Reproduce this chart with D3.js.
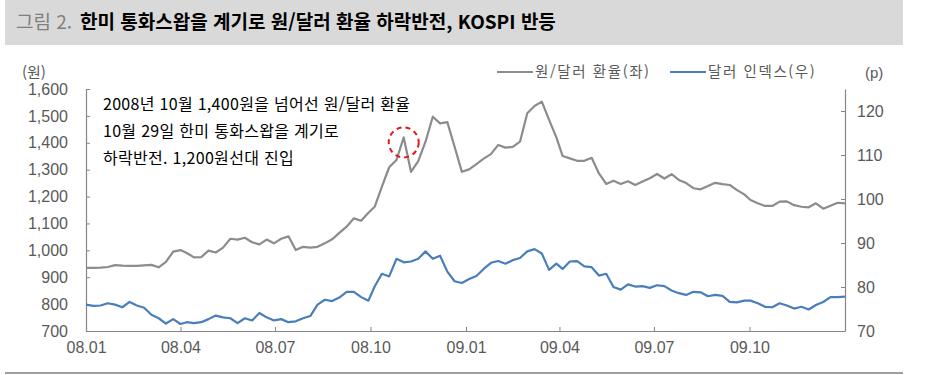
<!DOCTYPE html>
<html lang="ko">
<head>
    <meta charset="UTF-8">
    <title>그림 2. 한미 통화스왑을 계기로 원/달러 환율 하락반전, KOSPI 반등</title>
    <script src="https://d3js.org/d3.v7.min.js"></script>
    <style>
        body {
            margin: 0;
            background: #fff;
            font-family: "Liberation Sans", "Noto Sans CJK KR", sans-serif;
        }
        .axis text {
            font-family: "Liberation Sans", Arial, sans-serif;
            font-size: 16px;
            fill: #595959;
        }
        .axis path, .axis line {
            stroke: #868686;
        }
    </style>
</head>
<body>
    <svg id="chart" width="930" height="375"></svg>

    <script>
        // 주간 데이터: 2008.01 ~ 2009.12
        const wonDollar = [
            935, 935, 936, 938, 945, 943, 942, 942, 944, 946,
            937, 957, 995, 1001, 990, 974, 975, 999, 992, 1010,
            1043, 1040, 1047, 1030, 1022, 1040, 1026, 1043, 1052, 1001,
            1013, 1010, 1013, 1026, 1041, 1065, 1088, 1119, 1110, 1140,
            1162, 1237, 1309, 1336, 1420, 1292, 1332, 1404, 1497, 1472,
            1477, 1385, 1292, 1301, 1321, 1341, 1358, 1392, 1382, 1385,
            1404, 1510, 1537, 1553, 1485, 1420, 1351, 1342, 1333, 1333,
            1344, 1286, 1247, 1259, 1247, 1257, 1243, 1256, 1268, 1284,
            1267, 1283, 1262, 1250, 1231, 1227, 1239, 1251, 1246, 1243,
            1224, 1208, 1187, 1175, 1165, 1165, 1181, 1182, 1168, 1162,
            1160, 1175, 1155, 1166, 1177, 1175
        ];
        const dollarIndex = [
            76.0, 75.7, 75.8, 76.3, 76.0, 75.4, 76.6, 75.8, 75.3, 73.7,
            72.9, 71.7, 72.7, 71.6, 72.0, 71.8, 72.0, 72.7, 73.5, 73.1,
            72.9, 71.8, 72.9, 72.4, 74.1, 73.1, 72.4, 72.7, 72.0, 72.2,
            72.9, 73.4, 76.0, 77.1, 76.8, 77.6, 78.9, 78.9, 77.7, 76.9,
            80.1, 83.0, 82.4, 86.4, 85.6, 85.8, 86.4, 88.1, 86.4, 87.1,
            83.5, 81.3, 80.9, 81.8, 82.5, 84.1, 85.5, 85.9, 85.3, 86.1,
            86.6, 88.1, 88.6, 87.6, 83.9, 85.3, 84.1, 85.8, 85.9, 84.7,
            84.5, 82.6, 83.0, 80.0, 79.4, 80.6, 80.1, 80.2, 79.8, 80.4,
            80.2, 79.2, 78.6, 78.2, 78.9, 78.8, 77.9, 78.2, 78.0, 76.6,
            76.5, 76.9, 76.9, 76.3, 75.5, 75.4, 76.3, 75.8, 75.1, 75.5,
            74.9, 75.9, 76.6, 77.7, 77.7, 77.8
        ];
        const leftTicks = [700, 800, 900, 1000, 1100, 1200, 1300, 1400, 1500, 1600];
        const rightTicks = [70, 80, 90, 100, 110, 120];
        const monthTicks = ["2008-01", "2008-04", "2008-07", "2008-10", "2009-01", "2009-04", "2009-07", "2009-10"];
        const seriesNames = ["원/달러 환율(좌)", "달러 인덱스(우)"];
        const noteLines = [
            "2008년 10월 1,400원을 넘어선 원/달러 환율",
            "10월 29일 한미 통화스왑을 계기로",
            "하락반전. 1,200원선대 진입"
        ];
        const swapWeek = 44; // 10월 말 고점

        const start = new Date(2008, 0, 1);
        const end = new Date(2010, 0, 1);
        const n = wonDollar.length;
        const totalDays = (end - start) / 86400000;
        const dates = d3.range(n).map(i => new Date(2008, 0, 1 + Math.round(i * totalDays / (n - 1))));

        const svg = d3.select("#chart");

        // 제목 바
        svg.append("rect")
            .attr("x", 5).attr("y", 0)
            .attr("width", 898).attr("height", 45)
            .attr("fill", "#d9d9d9");
        const title = svg.append("text")
            .attr("x", 16).attr("y", 29)
            .style("font-family", "'Noto Sans CJK KR', sans-serif")
            .style("font-size", "19px");
        title.append("tspan").attr("fill", "#7f7f7f").text("그림 2. ");
        title.append("tspan").attr("x", 80).attr("fill", "#000").style("font-weight", "bold")
            .text("한미 통화스왑을 계기로 원/달러 환율 하락반전, KOSPI 반등");

        // 하단 선
        svg.append("line")
            .attr("x1", 5).attr("x2", 903)
            .attr("y1", 373).attr("y2", 373)
            .attr("stroke", "#7f7f7f").attr("stroke-width", 1.5);

        const plotLeft = 86, plotRight = 845, plotTop = 89, plotBottom = 331;

        const x = d3.scaleTime().domain([start, end]).range([plotLeft, plotRight]);
        const yL = d3.scaleLinear().domain([700, 1600]).range([plotBottom, plotTop]);
        const yR = d3.scaleLinear().domain([70, 125]).range([plotBottom, plotTop]);

        // 축
        svg.append("g")
            .attr("class", "axis")
            .attr("transform", `translate(0,${plotBottom})`)
            .call(d3.axisBottom(x)
                .tickValues(monthTicks.map(d3.timeParse("%Y-%m")))
                .tickFormat(d3.timeFormat("%y.%m"))
                .tickSizeInner(-4).tickSizeOuter(0).tickPadding(11));

        svg.append("g")
            .attr("class", "axis")
            .attr("transform", `translate(${plotLeft},0)`)
            .call(d3.axisLeft(yL)
                .tickValues(leftTicks)
                .tickFormat(d3.format(","))
                .tickSizeInner(-4).tickSizeOuter(0).tickPadding(18));

        svg.append("g")
            .attr("class", "axis")
            .attr("transform", `translate(${plotRight},0)`)
            .call(d3.axisRight(yR)
                .tickValues(rightTicks)
                .tickSizeInner(-4).tickSizeOuter(0).tickPadding(12));

        svg.selectAll(".axis .domain").attr("stroke-width", 1.2);

        // 단위
        svg.append("text")
            .attr("x", 22).attr("y", 78)
            .style("font-family", "'Noto Sans CJK KR', sans-serif")
            .style("font-size", "15px").attr("fill", "#595959")
            .text("(원)");
        svg.append("text")
            .attr("x", 865).attr("y", 78)
            .style("font-size", "15px").attr("fill", "#595959")
            .text("(p)");

        // 선
        const lineL = d3.line().x((d, i) => x(dates[i])).y(d => yL(d));
        const lineR = d3.line().x((d, i) => x(dates[i])).y(d => yR(d));

        svg.append("path")
            .datum(wonDollar)
            .attr("fill", "none")
            .attr("stroke", "#8c8c8c")
            .attr("stroke-width", 2.2)
            .attr("stroke-linejoin", "round")
            .attr("d", lineL);

        svg.append("path")
            .datum(dollarIndex)
            .attr("fill", "none")
            .attr("stroke", "#4a7ebb")
            .attr("stroke-width", 2.2)
            .attr("stroke-linejoin", "round")
            .attr("d", lineR);

        // 범례
        const legendColors = ["#8c8c8c", "#4a7ebb"];
        const legendX = [497, 670];
        seriesNames.forEach((name, i) => {
            svg.append("line")
                .attr("x1", legendX[i]).attr("x2", legendX[i] + 36)
                .attr("y1", 72).attr("y2", 72)
                .attr("stroke", legendColors[i]).attr("stroke-width", 2);
            svg.append("text")
                .attr("x", legendX[i] + 38).attr("y", 77)
                .style("font-family", "'Noto Sans CJK KR', sans-serif")
                .style("font-size", "14.5px")
                .style("letter-spacing", "1.6px")
                .attr("fill", "#595959")
                .text(name);
        });

        // 주석
        svg.append("g")
            .selectAll("text")
            .data(noteLines)
            .join("text")
            .attr("x", 103)
            .attr("y", (d, i) => 110 + i * 27)
            .style("font-family", "'Noto Sans CJK KR', sans-serif")
            .style("font-size", "16px")
            .style("letter-spacing", "0.3px")
            .attr("fill", "#000")
            .text(d => d);

        svg.append("circle")
            .attr("cx", x(dates[swapWeek]))
            .attr("cy", yL(wonDollar[swapWeek]) + 5)
            .attr("r", 15)
            .attr("fill", "none")
            .attr("stroke", "#e31a1c")
            .attr("stroke-width", 2)
            .attr("stroke-dasharray", "5,4");
    </script>
</body>
</html>
